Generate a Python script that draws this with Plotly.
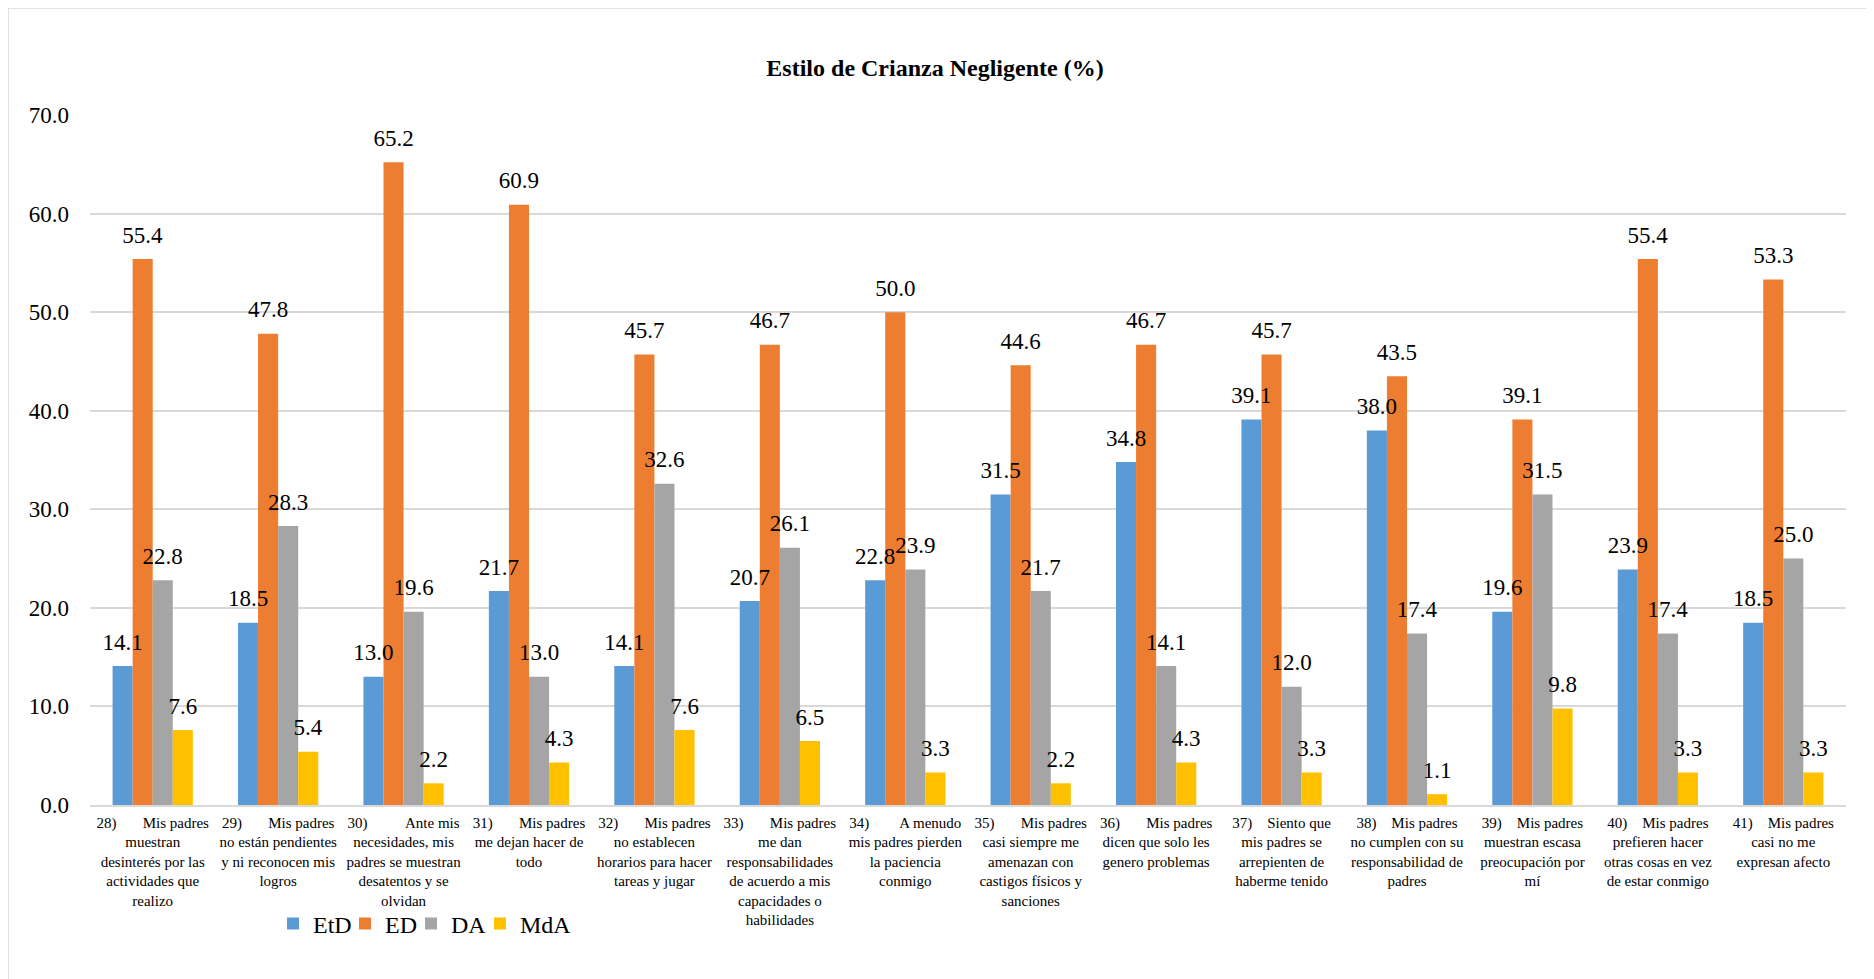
import plotly.graph_objects as go

NB = "\u00a0"
categories = [
    "28)" + NB * 7 + "Mis padres<br>muestran<br>desinterés por las<br>actividades que<br>realizo",
    "29)" + NB * 7 + "Mis padres<br>no están pendientes<br>y ni reconocen mis<br>logros",
    "30)" + NB * 10 + "Ante mis<br>necesidades, mis<br>padres se muestran<br>desatentos y se<br>olvidan",
    "31)" + NB * 7 + "Mis padres<br>me dejan hacer de<br>todo",
    "32)" + NB * 7 + "Mis padres<br>no establecen<br>horarios para hacer<br>tareas y jugar",
    "33)" + NB * 7 + "Mis padres<br>me dan<br>responsabilidades<br>de acuerdo a mis<br>capacidades o<br>habilidades",
    "34)" + NB * 8 + "A menudo<br>mis padres pierden<br>la paciencia<br>conmigo",
    "35)" + NB * 7 + "Mis padres<br>casi siempre me<br>amenazan con<br>castigos físicos y<br>sanciones",
    "36)" + NB * 7 + "Mis padres<br>dicen que solo les<br>genero problemas",
    "37)" + NB * 4 + "Siento que<br>mis padres se<br>arrepienten de<br>haberme tenido",
    "38)" + NB * 4 + "Mis padres<br>no cumplen con su<br>responsabilidad de<br>padres",
    "39)" + NB * 4 + "Mis padres<br>muestran escasa<br>preocupación por<br>mí",
    "40)" + NB * 4 + "Mis padres<br>prefieren hacer<br>otras cosas en vez<br>de estar conmigo",
    "41)" + NB * 4 + "Mis padres<br>casi no me<br>expresan afecto",
]

series_names = ["EtD", "ED", "DA", "MdA"]
EtD = [14.1, 18.5, 13.0, 21.7, 14.1, 20.7, 22.8, 31.5, 34.8, 39.1, 38.0, 19.6, 23.9, 18.5]
ED = [55.4, 47.8, 65.2, 60.9, 45.7, 46.7, 50.0, 44.6, 46.7, 45.7, 43.5, 39.1, 55.4, 53.3]
DA = [22.8, 28.3, 19.6, 13.0, 32.6, 26.1, 23.9, 21.7, 14.1, 12.0, 17.4, 31.5, 17.4, 25.0]
MdA = [7.6, 5.4, 2.2, 4.3, 7.6, 6.5, 3.3, 2.2, 4.3, 3.3, 1.1, 9.8, 3.3, 3.3]
series_values = [EtD, ED, DA, MdA]
colors = ["#5B9BD5", "#ED7D31", "#A5A5A5", "#FFC000"]

FONT = "Liberation Serif"
LABEL_GAP = 0.85  # data units of empty space between bar top and its label

# the page body adds an 8px margin, so the figure is 8px smaller on each axis
W, H = 1866, 971
ML, MR, MT, MB = 82, 28, 107, 174
PW, PH = W - ML - MR, H - MT - MB

# legend entry left edges (figure px) and vertical centre
LEG_X = [265, 337, 403, 472]
LEG_Y = 916
legend_ids = ["legend", "legend2", "legend3", "legend4"]

fig = go.Figure()
for i, (name, vals, col) in enumerate(zip(series_names, series_values, colors)):
    fig.add_trace(go.Bar(
        x=categories, y=vals, name=name, offsetgroup=str(i),
        marker=dict(color=col, line=dict(width=0)),
        legend=legend_ids[i],
    ))
for i, vals in enumerate(series_values):
    fig.add_trace(go.Bar(
        x=categories, y=[LABEL_GAP] * len(vals), base=vals, offsetgroup=str(i),
        marker=dict(color="rgba(0,0,0,0)", line=dict(width=0)),
        text=[f"{v:.1f}" for v in vals], textposition="outside",
        constraintext="none", cliponaxis=False,
        textfont=dict(family=FONT, size=23, color="black"),
        showlegend=False, hoverinfo="skip",
    ))

legend_layout = {}
for lid, lx in zip(legend_ids, LEG_X):
    legend_layout[lid] = dict(
        orientation="h", x=(lx - ML) / PW, y=(MT + PH - LEG_Y) / PH,
        xanchor="left", yanchor="middle",
        font=dict(family=FONT, size=24, color="black"),
        bgcolor="rgba(0,0,0,0)", itemwidth=30,
    )

fig.update_layout(
    width=W, height=H,
    barmode="group", bargap=0.36, bargroupgap=0,
    plot_bgcolor="white", paper_bgcolor="white",
    margin=dict(l=ML, r=MR, t=MT, b=MB, autoexpand=False),
    font=dict(family=FONT, color="black"),
    title=dict(text="<b>Estilo de Crianza Negligente (%)</b>",
               xref="container", x=927 / W, xanchor="center",
               y=1 - 60 / H, yanchor="middle",
               font=dict(family=FONT, size=24, color="black")),
    yaxis=dict(range=[0, 70], dtick=10, tickformat=".1f",
               showgrid=True, gridcolor="#D9D9D9", gridwidth=1.5,
               zeroline=False, showline=False, automargin=False,
               tickfont=dict(family=FONT, size=23, color="black"), ticks="",
               ticklabelstandoff=20),
    xaxis=dict(showline=True, linecolor="#D9D9D9", linewidth=1.5, automargin=False,
               tickfont=dict(family=FONT, size=15, color="black"), ticks="",
               tickangle=0, ticklabelstandoff=3),
    shapes=[dict(type="rect", xref="paper", yref="paper",
                 x0=(0 - ML) / PW, x1=(W + 20 - ML) / PW,
                 y0=-(H + 20 - MT - PH) / PH, y1=(MT + PH - 0) / PH,
                 line=dict(color="#D9D9D9", width=1.5), fillcolor="rgba(0,0,0,0)",
                 layer="below")],
    **legend_layout,
)

fig.write_html("out.html")
